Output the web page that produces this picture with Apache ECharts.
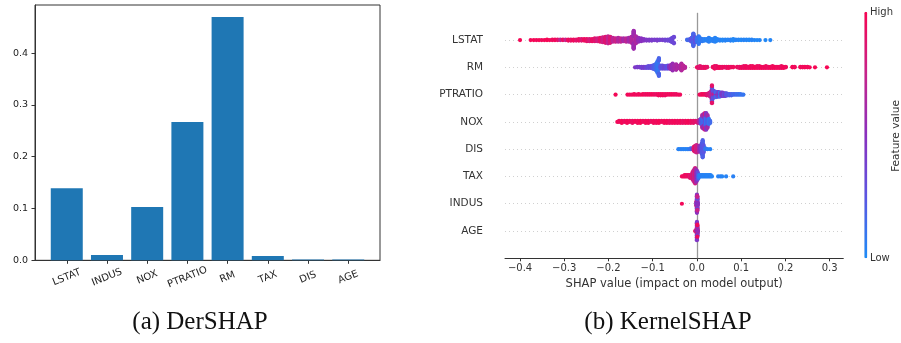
<!DOCTYPE html>
<html>
<head>
<meta charset="utf-8">
<script src="https://cdn.jsdelivr.net/npm/echarts@6/dist/echarts.min.js"></script>
<style>
  html, body { margin: 0; padding: 0; background: #fff; }
  #chart { width: 901px; height: 343px; }
</style>
</head>
<body>
<div id="chart"></div>
<script>
// (a) DerSHAP - bar heights
const barFeatures = ['LSTAT', 'INDUS', 'NOX', 'PTRATIO', 'RM', 'TAX', 'DIS', 'AGE']
const barValues = [0.139, 0.0102, 0.103, 0.267, 0.47, 0.0083, 0.0015, 0.0015]
const barYTicks = [0, 0.1, 0.2, 0.3, 0.4]

// (b) KernelSHAP - beeswarm rows, top row first
const shapFeatures = ['LSTAT', 'RM', 'PTRATIO', 'NOX', 'DIS', 'TAX', 'INDUS', 'AGE']
const shapXTicks = [-0.4, -0.3, -0.2, -0.1, 0, 0.1, 0.2, 0.3]

// each entry: [shap value, feature value (0 low .. 1 high), number of samples there]
const shapLSTAT = [
  [-0.400, 0.98, 1], [-0.376, 0.97, 1], [-0.369, 0.99, 1],
  [-0.363, 0.96, 1], [-0.357, 0.98, 1], [-0.351, 0.95, 1], [-0.345, 0.97, 1], [-0.339, 0.99, 2],
  [-0.333, 0.96, 1], [-0.327, 0.94, 2], [-0.321, 0.97, 2], [-0.315, 0.9, 2], [-0.309, 0.72, 2],
  [-0.303, 0.93, 2], [-0.297, 0.75, 2], [-0.291, 0.95, 3], [-0.285, 0.9, 3], [-0.279, 0.96, 3],
  [-0.273, 0.88, 3], [-0.267, 0.93, 4], [-0.261, 0.85, 4], [-0.255, 0.95, 4], [-0.249, 0.9, 5],
  [-0.243, 0.82, 5], [-0.237, 0.92, 5], [-0.231, 0.88, 6], [-0.225, 0.8, 6], [-0.219, 0.9, 8],
  [-0.213, 0.78, 10], [-0.207, 0.86, 12], [-0.201, 0.72, 14], [-0.196, 0.84, 12], [-0.190, 0.7, 8],
  [-0.184, 0.76, 7], [-0.178, 0.66, 8], [-0.172, 0.72, 7], [-0.166, 0.62, 6], [-0.160, 0.7, 7],
  [-0.154, 0.6, 8], [-0.148, 0.66, 12], [-0.143, 0.58, 22], [-0.138, 0.64, 14], [-0.132, 0.55, 8],
  [-0.126, 0.5, 6], [-0.120, 0.48, 4], [-0.114, 0.45, 3], [-0.108, 0.44, 3], [-0.102, 0.42, 3],
  [-0.096, 0.4, 2], [-0.090, 0.42, 3], [-0.084, 0.38, 2], [-0.078, 0.4, 2], [-0.072, 0.36, 3],
  [-0.066, 0.35, 3], [-0.060, 0.34, 5], [-0.056, 0.33, 9], [-0.052, 0.34, 4],
  [-0.022, 0.15, 2], [-0.016, 0.2, 4], [-0.012, 0.25, 8], [-0.008, 0.18, 16], [-0.004, 0.28, 10],
  [0.000, 0.12, 8], [0.004, 0.1, 7], [0.008, 0.06, 6], [0.012, 0.08, 5], [0.017, 0.05, 4],
  [0.022, 0.04, 4], [0.027, 0.06, 4], [0.032, 0.03, 4], [0.037, 0.05, 5], [0.041, 0.04, 8],
  [0.046, 0.03, 4], [0.052, 0.05, 3], [0.058, 0.02, 3], [0.064, 0.04, 3], [0.070, 0.03, 2],
  [0.076, 0.05, 3], [0.082, 0.02, 4], [0.088, 0.04, 2], [0.094, 0.03, 2], [0.100, 0.02, 2],
  [0.106, 0.04, 2], [0.112, 0.03, 2], [0.118, 0.02, 2], [0.124, 0.04, 2], [0.130, 0.03, 1],
  [0.136, 0.02, 1], [0.142, 0.03, 1], [0.155, 0.02, 1], [0.166, 0.03, 1]
]
const shapRM = [
  [-0.140, 0.45, 1], [-0.135, 0.4, 2], [-0.130, 0.42, 2], [-0.125, 0.38, 3], [-0.120, 0.4, 3],
  [-0.115, 0.35, 3], [-0.110, 0.3, 4], [-0.105, 0.32, 4], [-0.100, 0.25, 6], [-0.096, 0.2, 8],
  [-0.092, 0.15, 12], [-0.089, 0.1, 20], [-0.086, 0.18, 10], [-0.082, 0.25, 6], [-0.078, 0.3, 6],
  [-0.074, 0.35, 5], [-0.070, 0.3, 5], [-0.066, 0.25, 6], [-0.062, 0.5, 6], [-0.058, 0.6, 8],
  [-0.055, 0.55, 12], [-0.051, 0.6, 6], [-0.047, 0.62, 4], [-0.043, 0.65, 4], [-0.039, 0.62, 6],
  [-0.035, 0.66, 12], [-0.031, 0.7, 6], [-0.027, 0.68, 3],
  [0.000, 0.95, 1], [0.003, 0.9, 3], [0.007, 0.85, 4], [0.011, 0.92, 3], [0.015, 0.88, 3],
  [0.019, 0.95, 3], [0.023, 0.9, 2], [0.036, 0.93, 2], [0.040, 0.96, 3], [0.044, 0.9, 4],
  [0.048, 0.94, 3], [0.052, 0.97, 3], [0.057, 0.92, 3], [0.062, 0.95, 2], [0.067, 0.9, 3],
  [0.072, 0.96, 3], [0.077, 0.93, 2], [0.082, 0.95, 2], [0.091, 0.94, 2], [0.096, 0.9, 3],
  [0.101, 0.96, 3], [0.106, 0.92, 4], [0.111, 0.97, 4], [0.116, 0.93, 3], [0.121, 0.96, 4],
  [0.126, 0.94, 4], [0.131, 0.98, 3], [0.136, 0.95, 4], [0.141, 0.93, 4], [0.146, 0.97, 3],
  [0.151, 0.94, 3], [0.156, 0.96, 4], [0.161, 0.92, 3], [0.166, 0.97, 3], [0.171, 0.95, 4],
  [0.176, 0.98, 3], [0.181, 0.94, 3], [0.186, 0.96, 3], [0.191, 0.93, 4], [0.196, 0.97, 3],
  [0.201, 0.95, 2], [0.216, 0.98, 2], [0.221, 0.96, 2], [0.234, 0.97, 2], [0.239, 0.95, 2],
  [0.244, 0.98, 2], [0.250, 0.96, 2], [0.255, 0.97, 1], [0.267, 0.99, 1], [0.294, 0.99, 1]
]
const shapPTRATIO = [
  [-0.184, 0.98, 1], [-0.157, 0.97, 1], [-0.152, 0.96, 1],
  [-0.147, 0.95, 1], [-0.142, 0.97, 2], [-0.137, 0.94, 1], [-0.132, 0.96, 2], [-0.127, 0.95, 1],
  [-0.122, 0.98, 2], [-0.117, 0.93, 2], [-0.112, 0.96, 2], [-0.107, 0.94, 2], [-0.102, 0.97, 2],
  [-0.097, 0.95, 2], [-0.092, 0.92, 2], [-0.087, 0.96, 3], [-0.082, 0.94, 3], [-0.077, 0.97, 3],
  [-0.072, 0.93, 3], [-0.067, 0.96, 2], [-0.062, 0.94, 2], [-0.057, 0.97, 2], [-0.052, 0.95, 2],
  [-0.047, 0.93, 2], [-0.042, 0.96, 1], [-0.038, 0.95, 1],
  [0.006, 0.96, 1], [0.010, 0.95, 2], [0.014, 0.97, 2], [0.018, 0.94, 2], [0.022, 0.9, 3],
  [0.026, 0.85, 4], [0.029, 0.8, 6], [0.032, 0.7, 10], [0.034, 0.55, 10], [0.034, 0.2, 4],
  [0.034, 0.9, 4], [0.037, 0.6, 8], [0.037, 0.25, 4], [0.040, 0.75, 6], [0.040, 0.3, 4],
  [0.043, 0.5, 5], [0.043, 0.15, 4], [0.046, 0.65, 5], [0.046, 0.2, 3], [0.049, 0.4, 8],
  [0.052, 0.55, 4], [0.052, 0.1, 3], [0.055, 0.35, 6], [0.058, 0.45, 6], [0.061, 0.3, 5],
  [0.064, 0.4, 5], [0.067, 0.2, 4], [0.070, 0.25, 3], [0.074, 0.18, 3], [0.078, 0.2, 3],
  [0.082, 0.15, 2], [0.086, 0.18, 2], [0.090, 0.12, 2], [0.094, 0.15, 2], [0.098, 0.1, 2],
  [0.102, 0.12, 1], [0.105, 0.1, 1]
]
const shapNOX = [
  [-0.180, 0.97, 1], [-0.176, 0.95, 2], [-0.170, 0.98, 3], [-0.164, 0.94, 2], [-0.158, 0.97, 3],
  [-0.152, 0.96, 2], [-0.146, 0.93, 3], [-0.140, 0.97, 2], [-0.134, 0.95, 3], [-0.128, 0.98, 3],
  [-0.122, 0.94, 2], [-0.116, 0.96, 3], [-0.110, 0.97, 3], [-0.104, 0.93, 2], [-0.098, 0.96, 3],
  [-0.092, 0.95, 3], [-0.086, 0.98, 3], [-0.080, 0.94, 2], [-0.074, 0.96, 3], [-0.068, 0.97, 3],
  [-0.062, 0.93, 3], [-0.056, 0.95, 3], [-0.050, 0.97, 3], [-0.044, 0.94, 3], [-0.038, 0.96, 3],
  [-0.032, 0.92, 3], [-0.026, 0.95, 3], [-0.020, 0.97, 3], [-0.014, 0.93, 3], [-0.008, 0.9, 3],
  [-0.003, 0.88, 2], [0.002, 0.85, 3], [0.006, 0.6, 4], [0.009, 0.3, 6], [0.012, 0.2, 10],
  [0.012, 0.7, 4], [0.015, 0.15, 8], [0.015, 0.55, 8], [0.018, 0.3, 12], [0.018, 0.8, 6],
  [0.021, 0.1, 10], [0.021, 0.45, 8], [0.024, 0.2, 10], [0.024, 0.6, 4], [0.027, 0.1, 6],
  [0.030, 0.15, 3]
]
const shapDIS = [
  [-0.042, 0.05, 1], [-0.038, 0.03, 1], [-0.034, 0.06, 1], [-0.030, 0.04, 1], [-0.026, 0.05, 1],
  [-0.022, 0.03, 1], [-0.018, 0.08, 1], [-0.014, 0.1, 2], [-0.010, 0.3, 2], [-0.007, 0.85, 6],
  [-0.004, 0.9, 8], [-0.001, 0.75, 10], [0.002, 0.8, 8], [0.005, 0.6, 8], [0.008, 0.5, 6],
  [0.011, 0.3, 14], [0.013, 0.2, 22], [0.015, 0.25, 10], [0.019, 0.1, 2], [0.024, 0.05, 1],
  [0.030, 0.04, 1]
]
const shapTAX = [
  [-0.034, 0.95, 1], [-0.031, 0.97, 1], [-0.028, 0.93, 2], [-0.025, 0.96, 2], [-0.022, 0.9, 2],
  [-0.019, 0.94, 2], [-0.016, 0.85, 3], [-0.013, 0.9, 3], [-0.010, 0.75, 6], [-0.008, 0.85, 8],
  [-0.006, 0.7, 10], [-0.004, 0.8, 12], [-0.002, 0.6, 10], [0.000, 0.5, 8], [0.002, 0.3, 6],
  [0.004, 0.1, 3], [0.007, 0.05, 2], [0.010, 0.04, 2], [0.013, 0.06, 2], [0.016, 0.03, 2],
  [0.019, 0.05, 2], [0.022, 0.04, 2], [0.025, 0.03, 2], [0.028, 0.05, 2], [0.031, 0.04, 2],
  [0.034, 0.03, 1], [0.048, 0.04, 1], [0.053, 0.05, 1], [0.057, 0.03, 1], [0.066, 0.04, 1],
  [0.082, 0.05, 1]
]
const shapINDUS = [
  [-0.034, 0.97, 1], [-0.001, 0.55, 4], [-0.001, 0.8, 3], [0.000, 0.4, 6], [0.000, 0.65, 5],
  [0.000, 0.3, 5], [0.000, 0.85, 3], [0.000, 0.5, 6], [0.001, 0.45, 6], [0.001, 0.6, 5],
  [0.001, 0.35, 5], [0.001, 0.75, 4], [0.002, 0.5, 3]
]
const shapAGE = [
  [-0.004, 0.95, 1], [-0.001, 0.7, 4], [0.000, 0.5, 6], [0.000, 0.85, 4], [0.000, 0.35, 5],
  [0.000, 0.65, 5], [0.000, 0.9, 3], [0.000, 0.45, 4], [0.001, 0.6, 6], [0.001, 0.8, 4],
  [0.001, 0.4, 5], [0.001, 0.95, 3], [0.002, 0.55, 3]
]
const shapRows = [shapLSTAT, shapRM, shapPTRATIO, shapNOX, shapDIS, shapTAX, shapINDUS, shapAGE]

// beeswarm stacking, same way the shap summary plot does it
function swarmRow(entries, row) {
  const pts = []
  entries.forEach(e => { for (let k = 0; k < e[2]; k++) pts.push([e[0], e[1]]) })
  pts.sort((a, b) => a[0] - b[0])
  const xs = pts.map(p => p[0])
  const lo = Math.min(...xs)
  const hi = Math.max(...xs)
  let layer = 0
  let lastBin = -1
  const ys = pts.map(p => {
    const bin = Math.round(100 * (p[0] - lo) / (hi - lo + 1e-8))
    if (bin !== lastBin) layer = 0
    const y = Math.ceil(layer / 2) * ((layer % 2) * 2 - 1)
    layer++
    lastBin = bin
    return y
  })
  const scale = 0.9 * 0.4 / Math.max(...ys.map(y => y + 1))
  return pts.map((p, i) => [p[0], row + ys[i] * scale, p[1]])
}

const nRows = shapFeatures.length
let swarmData = []
shapRows.forEach((entries, i) => {
  swarmData = swarmData.concat(swarmRow(entries, nRows - 1 - i))
})

const font = 'DejaVu Sans'
const chart = echarts.init(document.getElementById('chart'))

const option = {
  animation: false,
  backgroundColor: '#fff',
  grid: [
    { left: 35, top: 5, width: 345, height: 255.3, show: true, borderColor: '#333', borderWidth: 1 },
    { left: 505, top: 12.8, width: 338.3, height: 245.5 }
  ],
  xAxis: [
    {
      gridIndex: 0, type: 'value', min: -0.79, max: 7.79,
      axisLine: { onZero: false, lineStyle: { color: '#333' } },
      axisTick: { customValues: barFeatures.map((c, i) => i), length: 3.5, lineStyle: { color: '#333' } },
      axisLabel: {
        customValues: barFeatures.map((c, i) => i),
        formatter: v => barFeatures[v],
        rotate: 22, align: 'center', verticalAlign: 'middle', margin: 17,
        color: '#222', fontFamily: font, fontSize: 10
      },
      splitLine: { show: false }
    },
    {
      gridIndex: 1, type: 'value', min: -0.434, max: 0.331,
      name: 'SHAP value (impact on model output)', nameLocation: 'middle', nameGap: 18,
      nameTextStyle: { color: '#333', fontFamily: font, fontSize: 11.5 },
      axisLine: { onZero: false, lineStyle: { color: '#333' } },
      axisTick: { customValues: shapXTicks, length: 3, lineStyle: { color: '#333' } },
      axisLabel: {
        customValues: shapXTicks,
        formatter: v => (v < 0 ? '\u2212' : '') + Math.abs(v).toFixed(1),
        margin: 5, color: '#333', fontFamily: font, fontSize: 10
      },
      splitLine: { show: false }
    }
  ],
  yAxis: [
    {
      gridIndex: 0, type: 'value', min: 0, max: 0.493,
      axisLine: { show: true, onZero: false, lineStyle: { color: '#333' } },
      axisTick: { show: true, customValues: barYTicks, length: 3.5, lineStyle: { color: '#333' } },
      axisLabel: {
        customValues: barYTicks, formatter: v => v.toFixed(1),
        margin: 7, color: '#222', fontFamily: font, fontSize: 9.5
      },
      splitLine: { show: false }
    },
    {
      gridIndex: 1, type: 'value', min: -1, max: nRows,
      axisLine: { show: false, onZero: false },
      axisTick: { show: false },
      axisLabel: {
        customValues: shapFeatures.map((c, i) => i),
        formatter: v => shapFeatures[nRows - 1 - v],
        margin: 22, color: '#333', fontFamily: font, fontSize: 10.5
      },
      splitLine: { show: false }
    }
  ],
  visualMap: {
    type: 'continuous', min: 0, max: 1, dimension: 2, seriesIndex: 1,
    orient: 'vertical', left: 864.3, top: 11.7, itemWidth: 3, itemHeight: 246.6,
    padding: 0, calculable: false, hoverLink: false,
    inRange: { color: ['#1c8cf8', '#5b55e3', '#8a2fbf', '#c8228a', '#f90552'] }
  },
  series: [
    {
      type: 'bar', xAxisIndex: 0, yAxisIndex: 0,
      data: barValues.map((v, i) => [i, v]),
      barWidth: 32,
      itemStyle: { color: '#1f77b4' }
    },
    {
      type: 'scatter', xAxisIndex: 1, yAxisIndex: 1,
      data: swarmData,
      symbolSize: 4.2,
      itemStyle: { opacity: 1 },
      z: 3,
      markLine: {
        z: 1, silent: true, symbol: 'none', label: { show: false },
        animation: false,
        data: shapFeatures.map((c, i) => ({ yAxis: i, lineStyle: { color: '#d0d0d0', width: 1, type: [1, 3] } }))
          .concat([{ xAxis: 0, lineStyle: { color: '#999', width: 1.3, type: 'solid' } }])
      }
    }
  ],
  graphic: [
    { type: 'text', x: 870, y: 12, style: { text: 'High', font: '10px "DejaVu Sans"', fill: '#333', textVerticalAlign: 'middle' } },
    { type: 'text', x: 870, y: 258, style: { text: 'Low', font: '10px "DejaVu Sans"', fill: '#333', textVerticalAlign: 'middle' } },
    { type: 'text', x: 896.5, y: 136, rotation: Math.PI / 2, style: { text: 'Feature value', font: '10.5px "DejaVu Sans"', fill: '#333', textAlign: 'center', textVerticalAlign: 'middle' } },
    { type: 'text', x: 200, y: 322, style: { text: '(a) DerSHAP', font: '25px "Liberation Serif"', fill: '#111', textAlign: 'center', textVerticalAlign: 'middle' } },
    { type: 'text', x: 668, y: 322, style: { text: '(b) KernelSHAP', font: '25px "Liberation Serif"', fill: '#111', textAlign: 'center', textVerticalAlign: 'middle' } }
  ]
}

chart.setOption(option)
</script>
</body>
</html>
